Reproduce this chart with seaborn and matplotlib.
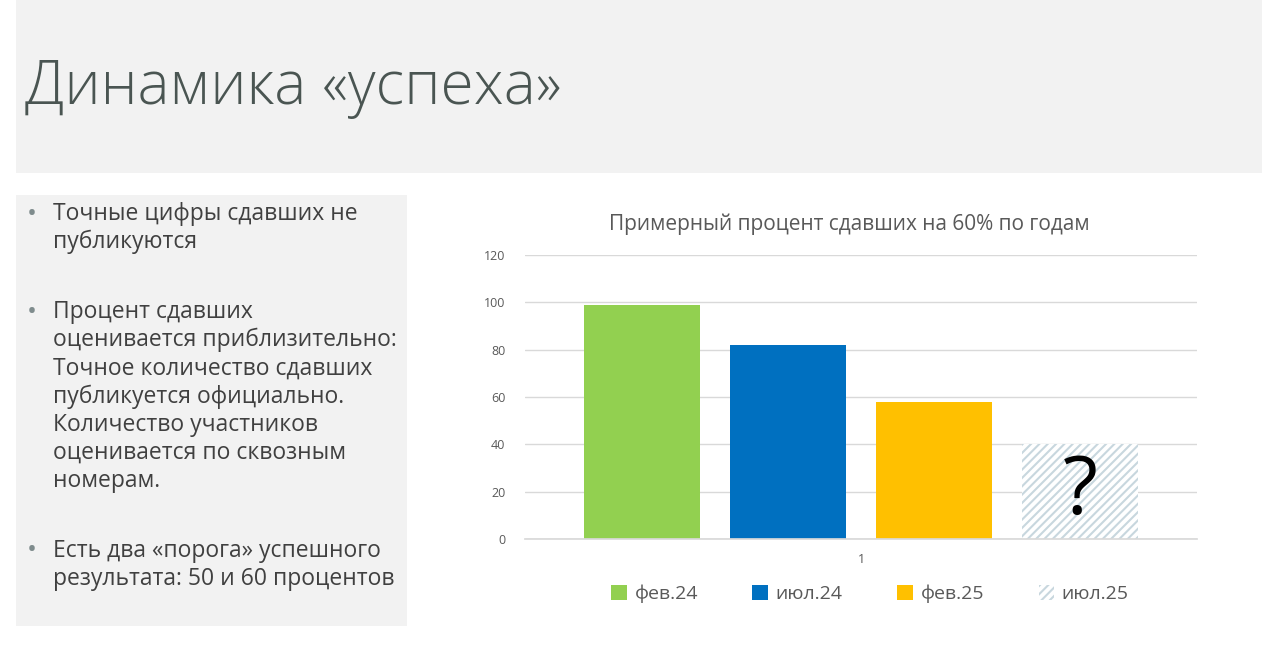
import matplotlib
matplotlib.use("Agg")
import matplotlib.pyplot as plt
import seaborn as sns
import pandas as pd
from matplotlib.patches import Rectangle

# ---- данные ----
periods = ["фев.24", "июл.24", "фев.25", "июл.25"]
percent = [99, 82, 58, 40]
category = ["1", "1", "1", "1"]
bar_colors = ["#92d050", "#0070c0", "#ffc000", "#ffffff"]
y_ticks = [0, 20, 40, 60, 80, 100, 120]

bullets = [
    ["Точные цифры сдавших не", "публикуются"],
    ["Процент сдавших", "оценивается приблизительно:",
     "Точное количество сдавших", "публикуется официально.",
     "Количество участников", "оценивается по сквозным", "номерам."],
    ["Есть два «порога» успешного", "результата: 50 и 60 процентов"],
]

sns.set_theme(style="white")
plt.rcParams["font.family"] = ["Open Sans", "DejaVu Sans"]
plt.rcParams["hatch.linewidth"] = 1.5

W, H = 1280, 646
fig = plt.figure(figsize=(W / 100, H / 100), dpi=100)
fig.patch.set_facecolor("white")


def px(x, y):
    return x / W, 1 - y / H


# серые плашки слайда
fig.patches.append(Rectangle(px(16, 173), 1246 / W, 173 / H, transform=fig.transFigure,
                             facecolor="#f2f2f2", edgecolor="none", zorder=0))
fig.patches.append(Rectangle(px(16, 626), 391 / W, 431 / H, transform=fig.transFigure,
                             facecolor="#f2f2f2", edgecolor="none", zorder=0))

fig.text(*px(25, 88), "Динамика «успеха»", fontsize=43.5, fontweight="light",
         color="#4a5552", va="center", ha="left")

# маркированный список
y = 214
for block in bullets:
    fig.text(*px(32, y), "•", fontsize=19, color="#7f8c8d", va="center", ha="center")
    for line in block:
        fig.text(*px(53, y), line, fontsize=16.5, color="#404040", va="center", ha="left")
        y += 28.1
    y += 42

# ---- диаграмма ----
df = pd.DataFrame({"cat": category, "period": periods, "value": percent})
ax = fig.add_axes([525 / W, 1 - 539 / H, 672 / W, 284 / H])
sns.barplot(data=df, x="cat", y="value", hue="period", hue_order=periods,
            palette=bar_colors, width=0.869, gap=0.2, saturation=1,
            legend=False, ax=ax, linewidth=0, err_kws={"linewidth": 0})

last = ax.containers[-1].patches[0]
last.set_hatch("////")
last.set_edgecolor("#c8d7de")
last.set_linewidth(0)

ax.text(last.get_x() + last.get_width() / 2, 19.5, "?",
        fontsize=58, fontweight="medium", color="black", ha="center", va="center")

ax.set_ylim(0, 120)
ax.set_xlim(-0.5, 0.5)
ax.set_yticks(y_ticks)
ax.yaxis.grid(True, color="#d9d9d9", linewidth=1)
ax.set_axisbelow(True)
for s in ["left", "right", "top"]:
    ax.spines[s].set_visible(False)
ax.spines["bottom"].set_color("#d9d9d9")
ax.tick_params(axis="y", length=0, pad=14, labelsize=9, labelcolor="#595959")
ax.tick_params(axis="x", length=0, pad=10, labelsize=9, labelcolor="#595959")
ax.set_xlabel("")
ax.set_ylabel("")
ax.set_facecolor("none")

fig.text(*px(849, 224), "Примерный процент сдавших на 60% по годам", fontsize=15,
         color="#595959", ha="center", va="center")

handles = [c.patches[0] for c in ax.containers]
ax.legend(handles, periods, loc="center", bbox_to_anchor=(0.5 + 9 / 672, -55 / 284),
          ncol=4, frameon=False, fontsize=14, labelcolor="#595959",
          handlelength=0.8, handleheight=0.8, handletextpad=0.4, columnspacing=2.8)

fig.savefig("out.png", dpi=100, facecolor=fig.get_facecolor())
